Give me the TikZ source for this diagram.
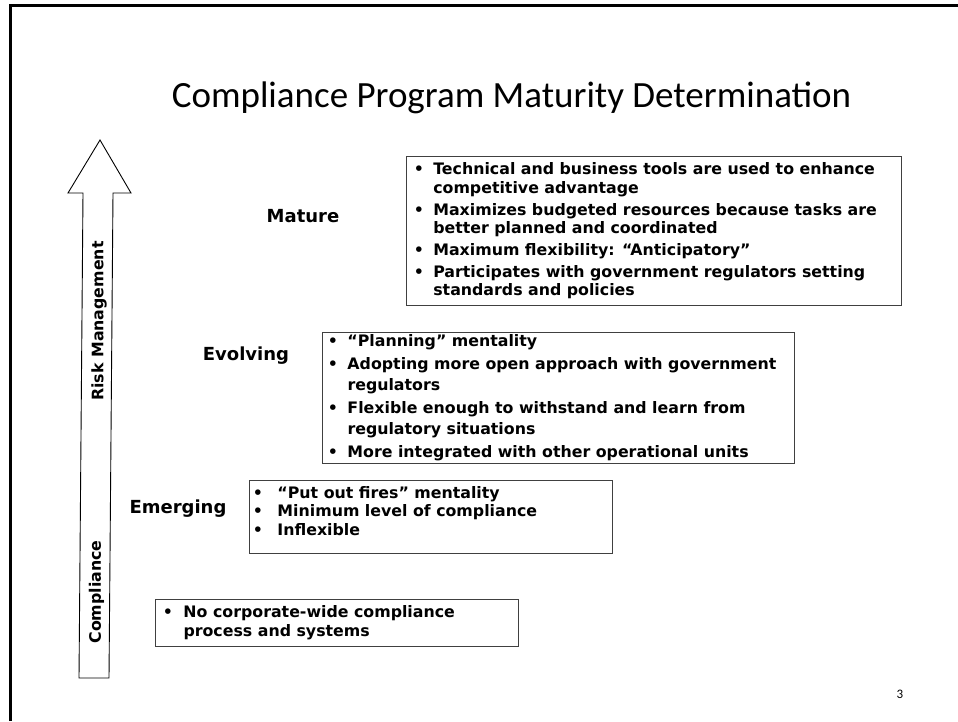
\documentclass[tikz,border=0pt]{standalone}
\usepackage{fontspec}
\setmainfont{DejaVu Sans}
\newfontfamily\titlefont{Carlito}

% hanging bullet points inside the stage boxes
\newlength\hangw
\newcommand\bul{\par\noindent\hangindent=\hangw\hangafter=1\makebox[\hangw][l]{•}}
% #1 width, #2 bullet indent, #3 text indent, #4 line pitch, #5 gap between points, #6 points
\newcommand\blist[6]{\begin{minipage}{#1pt}\fontsize{15.8}{#4}\selectfont\bfseries\raggedright
  \leftskip=#2pt\relax\hangw=#3pt\relax\parskip=#5pt\relax #6\end{minipage}}

\begin{document}
\begin{tikzpicture}[x=1pt,y=-1pt,
  every node/.style={inner sep=0pt},
  pointbox/.style={draw=black!75, line width=1pt, anchor=north west, inner sep=0pt},
  stagelabel/.style={anchor=base, font=\fontsize{18}{22}\selectfont\bfseries},
  axislabel/.style={rotate=90, font=\fontsize{15.8}{19}\selectfont\bfseries},
  blockarrow/.style={draw=black, line width=0.9pt, fill=white, line join=miter}]
\useasboundingbox (0,0) rectangle (958,721);
\fill[white] (0,0) rectangle (958,721);

% slide frame (left and top edges)
\draw[line width=2.5pt, line join=miter] (10.3,721) -- (10.3,5.7) -- (958,5.7);

% title
\node[anchor=base, font=\titlefont\fontsize{37}{44}\selectfont] (title) at (511.5,107)
  {Compliance Program Maturity Determination};

% upward block arrow with its two captions
\draw[blockarrow] (100,140) -- (131,193) -- (113,193) -- (109,678) -- (79,678)
  -- (83,193) -- (68,193) -- cycle;
\node[axislabel] (risk) at (99,321) {Risk Management};
\node[axislabel] (comp) at (96.5,592) {Compliance};

% stage names
\node[stagelabel] (lmature) at (303,222) {Mature};
\node[stagelabel] (levolving) at (246,360) {Evolving};
\node[stagelabel] (lemerging) at (178,513) {Emerging};

% stage descriptions
\node[pointbox, minimum width=495pt, minimum height=149pt] (mature) at (406,156)
  {\blist{495}{7.3}{19.5}{18.3}{3.7}{%
  \bul Technical and business tools are used to enhance\newline competitive advantage
  \bul Maximizes budgeted resources because tasks are\newline better planned and coordinated
  \bul Maximum flexibility: “Anticipatory”
  \bul Participates with government regulators setting\newline standards and policies}};

\node[pointbox, minimum width=472pt, minimum height=131pt] (evolving) at (322,332)
  {\blist{472}{5.3}{19.7}{21}{2}{%
  \bul “Planning” mentality
  \bul Adopting more open approach with government\newline regulators
  \bul Flexible enough to withstand and learn from\newline regulatory situations
  \bul More integrated with other operational units}};

\node[pointbox, minimum width=363pt, minimum height=73pt] (emerging) at (249,480)
  {\blist{363}{3.3}{24.7}{18.5}{0}{%
  \bul “Put out fires” mentality
  \bul Minimum level of compliance
  \bul Inflexible\par\vspace*{12pt}}};

\node[pointbox, minimum width=363pt, minimum height=47pt] (initial) at (155,599)
  {\blist{363}{7.3}{20.7}{19}{0}{%
  \bul No corporate-wide compliance\newline process and systems}};

% page number
\node[anchor=base, font=\titlefont\fontsize{13}{15}\selectfont] (num) at (900,698) {3};
\end{tikzpicture}
\end{document}
